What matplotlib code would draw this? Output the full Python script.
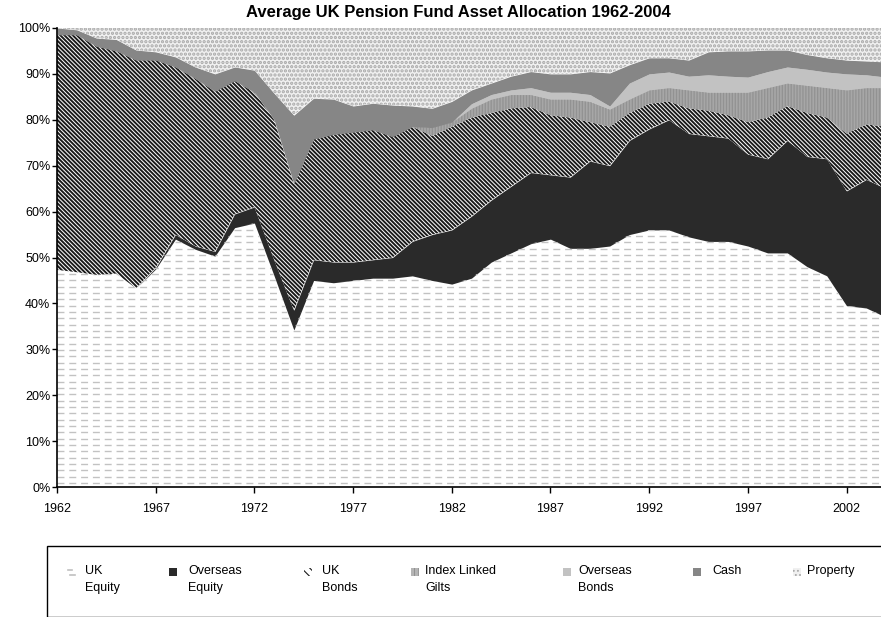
import matplotlib
matplotlib.use("Agg")
import matplotlib.pyplot as plt
from matplotlib.patches import Rectangle
import numpy as np

plt.rcParams["font.family"] = ["Liberation Sans", "DejaVu Sans"]
plt.rcParams["hatch.linewidth"] = 1.4

W, H = 881, 617

# ---- data (percent of fund) ----
years = np.arange(1962, 2005)

uk_equity = [47.3, 46.8, 46.2, 46.5, 43.3, 47.5, 54.0, 51.8, 50.3, 56.5,
             57.5, 46.0, 34.2, 45.0, 44.5, 45.0, 45.5, 45.5, 46.0, 45.0,
             44.2, 45.5, 49.0, 51.0, 53.0, 54.0, 52.0, 52.0, 52.5, 55.0,
             56.0, 56.0, 54.5, 53.5, 53.5, 52.5, 51.0, 51.0, 48.0, 46.0,
             39.5, 39.0, 37.0]
overseas_equity = [0.0, 0.0, 0.0, 0.0, 0.0, 0.3, 1.0, 0.7, 1.0, 3.0,
                   3.5, 3.5, 4.3, 4.5, 4.5, 4.0, 4.0, 4.5, 7.5, 10.0,
                   11.8, 13.5, 13.5, 14.5, 15.5, 14.0, 15.5, 19.0, 17.5, 20.5,
                   22.0, 24.0, 22.5, 23.0, 22.5, 20.0, 20.5, 24.5, 24.0, 25.5,
                   25.0, 28.0, 28.0]
uk_bonds = [51.2, 51.7, 49.8, 48.5, 49.7, 45.2, 36.5, 36.5, 34.9, 29.0,
            25.0, 30.5, 27.5, 26.3, 27.8, 28.3, 28.3, 26.3, 25.0, 21.5,
            22.5, 21.5, 19.0, 17.0, 14.3, 13.0, 13.0, 8.5, 8.5, 6.0,
            5.5, 4.0, 5.5, 5.5, 5.0, 7.0, 9.0, 7.5, 9.5, 9.0,
            12.5, 12.0, 13.5]
index_linked = [0.0, 0.0, 0.0, 0.0, 0.0, 0.0, 0.0, 0.0, 0.0, 0.0,
                0.0, 0.0, 0.0, 0.0, 0.0, 0.0, 0.0, 0.0, 0.0, 1.8,
                1.0, 2.0, 3.0, 3.0, 2.7, 3.5, 4.0, 4.5, 3.8, 3.0,
                3.0, 3.0, 4.0, 4.0, 5.0, 6.5, 6.5, 5.0, 6.0, 6.5,
                9.5, 8.0, 8.5]
overseas_bonds = [0.0, 0.0, 0.0, 0.0, 0.0, 0.0, 0.0, 0.0, 0.0, 0.0,
                  0.0, 0.0, 0.0, 0.0, 0.0, 0.0, 0.0, 0.0, 0.0, 0.0,
                  0.0, 1.0, 1.0, 1.0, 1.5, 1.5, 1.5, 1.5, 0.7, 3.5,
                  3.5, 3.4, 3.0, 3.8, 3.5, 3.3, 3.5, 3.5, 3.5, 3.4,
                  3.5, 2.8, 2.3]
cash = [1.5, 1.1, 1.8, 2.5, 2.2, 1.8, 2.2, 2.5, 3.8, 3.0,
        4.8, 5.8, 15.0, 8.9, 7.7, 5.7, 5.8, 6.9, 4.5, 4.2,
        4.5, 3.0, 2.5, 3.0, 3.5, 4.0, 4.0, 5.0, 7.2, 4.0,
        3.5, 3.1, 3.5, 5.0, 5.5, 5.7, 4.7, 3.7, 3.2, 3.1,
        3.0, 3.0, 3.3]
property_ = [0.0, 0.4, 2.2, 2.5, 4.8, 5.2, 6.3, 8.5, 10.0, 8.5,
             9.2, 14.2, 19.0, 15.3, 15.5, 17.0, 16.4, 16.8, 17.0, 17.5,
             16.0, 13.5, 12.0, 10.5, 9.5, 10.0, 10.0, 9.5, 9.8, 8.0,
             6.5, 6.5, 7.0, 5.2, 5.0, 5.0, 4.8, 4.8, 5.8, 6.5,
             7.0, 7.2, 7.4]

labels = ["UK\nEquity", "Overseas\nEquity", "UK\nBonds", "Index Linked\nGilts",
          "Overseas\nBonds", "Cash", "Property"]
year_ticks = list(range(1962, 2003, 5))

# fill styles: (facecolor, hatch, hatch colour, hatch linewidth)
styles = [
    ("white", None, "white", 0.5),
    ("#2a2a2a", None, "#2a2a2a", 0.5),
    ("white", "\\" * 8, "#1a1a1a", 1.4),
    ("#b4b4b4", "|" * 11, "#8c8c8c", 0.6),
    ("#c2c2c2", None, "#c2c2c2", 0.5),
    ("#868686", None, "#868686", 0.5),
    ("#f0f0f0", "." * 4, "#a8a8a8", 1.6),
]

series = [uk_equity, overseas_equity, uk_bonds, index_linked,
          overseas_bonds, cash, property_]

fig = plt.figure(figsize=(W / 100, H / 100), dpi=100)
ax = fig.add_axes([57 / W, (H - 487) / H, 829 / W, 459 / H])

bottom = np.zeros(len(years))
fills = []
for vals, (fc, hatch, hc, hlw) in zip(series, styles):
    top = bottom + np.array(vals)
    poly = ax.fill_between(years, bottom, top, facecolor=fc, hatch=hatch,
                           edgecolor=hc, linewidth=0)
    if hasattr(poly, "set_hatch_linewidth"):
        poly.set_hatch_linewidth(hlw)
    fills.append(poly)
    bottom = top

# dashed grey texture for UK equity, clipped to its area
dash_y = np.arange(0.9, 100, 1.38)
dashes = ax.hlines(dash_y, 1962, 2004, colors="#c2c2c2", linewidth=1.0,
                   linestyles=(0, (5, 3.5)))
dashes.set_clip_path(fills[0].get_paths()[0], ax.transData)

ax.set_xlim(1962, 2004)
ax.set_ylim(0, 100)
ax.set_xticks(year_ticks)
ax.set_xticklabels([str(y) for y in year_ticks])
ax.set_yticks(range(0, 101, 10))
ax.set_yticklabels(["{}%".format(v) for v in range(0, 101, 10)])
ax.tick_params(axis="y", direction="out", length=3.3, width=1, pad=1.5,
               labelsize=9, colors="black")
ax.tick_params(axis="x", direction="out", length=4.3, width=1, pad=7,
               labelsize=9, colors="black")
for s in ["top", "right"]:
    ax.spines[s].set_visible(False)
for s in ["left", "bottom"]:
    ax.spines[s].set_linewidth(1.2)
    ax.spines[s].set_color("black")
    ax.spines[s].set_zorder(5)

fig.text(458 / W, 1 - 12 / H, "Average UK Pension Fund Asset Allocation 1962-2004",
         ha="center", va="center", fontsize=12, fontweight="bold")

# ---- legend (drawn by hand so markers sit on the first text line) ----
frame = Rectangle((47 / W, (H - 616.5) / H), 860 / W, 70.5 / H,
                  transform=fig.transFigure, facecolor="white",
                  edgecolor="black", linewidth=1.0, zorder=1)
fig.patches.append(frame)

marker_x = [72, 173, 308, 415, 567, 697, 797]
text_x = [85, 188, 322, 425, 578, 712, 807]
row_y = 572
for i, (lab, (fc, hatch, hc, hlw)) in enumerate(zip(labels, styles)):
    mx = marker_x[i]
    if i == 0:
        fig.lines.append(plt.Line2D([(mx - 4) / W, (mx) / W],
                                    [(H - row_y + 2) / H] * 2,
                                    transform=fig.transFigure,
                                    color="#c0c0c0", lw=1.2, zorder=3))
        fig.lines.append(plt.Line2D([(mx - 2) / W, (mx + 3) / W],
                                    [(H - row_y - 3) / H] * 2,
                                    transform=fig.transFigure,
                                    color="#c0c0c0", lw=1.2, zorder=3))
    else:
        r = Rectangle(((mx - 4) / W, (H - row_y - 4) / H), 8 / W, 8 / H,
                      transform=fig.transFigure, facecolor=fc,
                      hatch=hatch[:4] if hatch else None,
                      edgecolor=hc, linewidth=0, zorder=3)
        if hasattr(r, "set_hatch_linewidth"):
            r.set_hatch_linewidth(min(hlw, 0.8))
        fig.patches.append(r)
    fig.text(text_x[i] / W, (H - row_y + 7) / H, lab, ha="left", va="top",
             fontsize=9, linespacing=1.55, zorder=4)

fig.savefig("out.png", dpi=100)
